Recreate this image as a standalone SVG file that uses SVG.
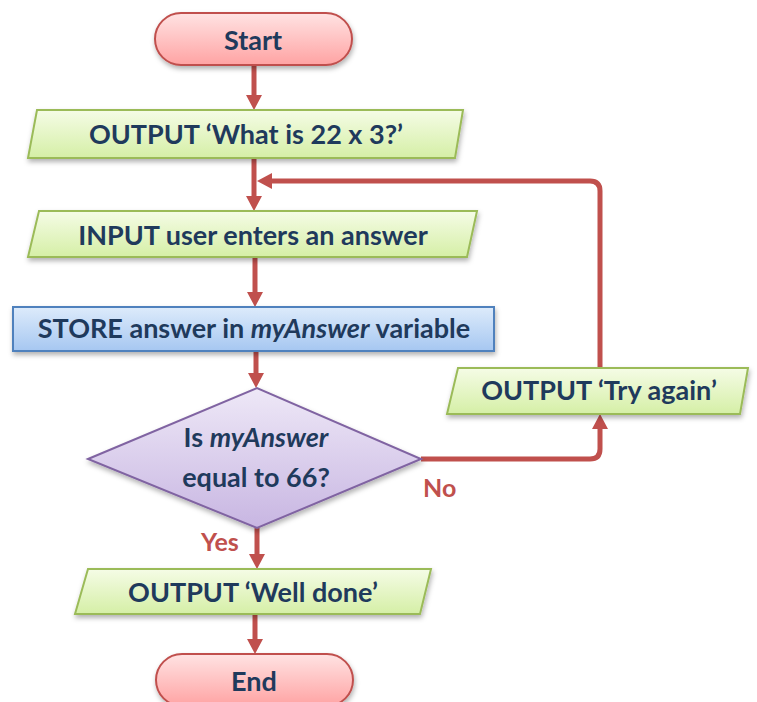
<svg xmlns="http://www.w3.org/2000/svg" width="757" height="702" viewBox="0 0 757 702">
<defs>
<linearGradient id="gRed" x1="0" y1="0" x2="0" y2="1"><stop offset="0" stop-color="#FFE3E3"/><stop offset="1" stop-color="#FFA3A3"/></linearGradient>
<linearGradient id="gGreen" x1="0" y1="0" x2="0" y2="1"><stop offset="0" stop-color="#F5FCE6"/><stop offset="1" stop-color="#D5EFA6"/></linearGradient>
<linearGradient id="gBlue" x1="0" y1="0" x2="0" y2="1"><stop offset="0" stop-color="#DDEBFB"/><stop offset="1" stop-color="#A6C7F1"/></linearGradient>
<linearGradient id="gPurple" x1="0" y1="0" x2="0" y2="1"><stop offset="0" stop-color="#EEE8F7"/><stop offset="1" stop-color="#C8B6E2"/></linearGradient>
<filter id="sh" x="-10%" y="-20%" width="120%" height="150%"><feDropShadow dx="1" dy="3" stdDeviation="2.5" flood-color="#000" flood-opacity="0.3"/></filter>
<marker id="ah" viewBox="0 0 15 16" refX="5" refY="8" markerWidth="15" markerHeight="16" markerUnits="userSpaceOnUse" orient="auto"><path d="M0,0 L15,8 L0,16 z" fill="#C0504D"/></marker>
</defs>
<style>
.t{font-family:"Lato","Liberation Sans",sans-serif;font-weight:bold;font-size:27px;fill:#1F3A5C;text-anchor:middle}
.lbl{font-family:"Lato","Liberation Sans",sans-serif;font-weight:bold;font-size:25px;fill:#C0504D}
.term{fill:url(#gRed);stroke:#C0504D;stroke-width:2;filter:url(#sh)}
.io{fill:url(#gGreen);stroke:#9BBB59;stroke-width:2;filter:url(#sh)}
.proc{fill:url(#gBlue);stroke:#4F81BD;stroke-width:2;filter:url(#sh)}
.dec{fill:url(#gPurple);stroke:#8064A2;stroke-width:2;filter:url(#sh)}
.c{fill:none;stroke:#C0504D;stroke-width:5;marker-end:url(#ah)}
</style>
<g id="connectors">
<path class="c" d="M254 65 V100"/>
<path class="c" d="M254 158 V201"/>
<path class="c" d="M600 368 V191 Q600 181 590 181 H267"/>
<path class="c" d="M255 257 V297"/>
<path class="c" d="M256 351 V378"/>
<path class="c" d="M421 459 H590 Q600 459 600 449 V424"/>
<path class="c" d="M257 528 V559"/>
<path class="c" d="M255 614 V644"/>
</g>
<g id="start"><rect class="term" x="155" y="13" width="197" height="52" rx="26"/><text class="t" x="253" y="50">Start</text></g>
<g id="output1"><polygon class="io" points="37,110 463,110 455,158 28,158"/><text class="t" x="246" y="144">OUTPUT ‘What is 22 x 3?’</text></g>
<g id="input"><polygon class="io" points="39,211 477,211 467,257 28,257"/><text class="t" x="253" y="245">INPUT user enters an answer</text></g>
<g id="store"><rect class="proc" x="13" y="307" width="481" height="44"/><text class="t" x="254" y="338">STORE answer in <tspan font-style="italic">myAnswer</tspan> variable</text></g>
<g id="decision"><polygon class="dec" points="88,459 257,388 421,459 257,528"/><text class="t" x="256" y="447">Is <tspan font-style="italic">myAnswer</tspan></text><text class="t" x="256" y="487">equal to 66?</text></g>
<g id="tryagain"><polygon class="io" points="458,368 748,368 740,414 447,414"/><text class="t" x="599" y="400">OUTPUT ‘Try again’</text></g>
<g id="welldone"><polygon class="io" points="88,569 431,569 420,614 75,614"/><text class="t" x="253" y="602">OUTPUT ‘Well done’</text></g>
<g id="end"><rect class="term" x="156" y="654" width="197" height="52" rx="26"/><text class="t" x="254" y="691">End</text></g>
<g id="labels"><text class="lbl" x="423" y="497">No</text><text class="lbl" x="201" y="551">Yes</text></g>
</svg>
